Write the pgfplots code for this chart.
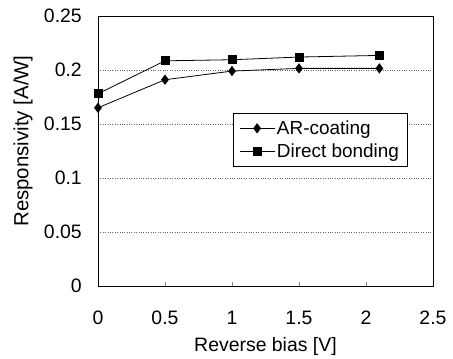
\documentclass[border=0pt]{standalone}
\usepackage{fontspec}
\setmainfont{Liberation Sans}
\usepackage{pgfplots}
\pgfplotsset{compat=1.18}
\newcommand{\tl}[1]{\mbox{\fontsize{19.5}{22}\selectfont #1}}
\begin{document}
\begin{tikzpicture}
\begin{axis}[
  scale only axis,
  width=335bp, height=270bp,
  xmin=0, xmax=2.5, ymin=0, ymax=0.25,
  xtick={0,0.5,1,1.5,2,2.5},
  ytick={0,0.05,0.1,0.15,0.2,0.25},
  xticklabels={\tl{0},\tl{0.5},\tl{1},\tl{1.5},\tl{2},\tl{2.5}},
  yticklabels={\tl{0},\tl{0.05},\tl{0.1},\tl{0.15},\tl{0.2},\tl{0.25}},
  tick label style={font=\fontsize{19.5}{22}\selectfont, inner sep=0pt},
  xticklabel style={anchor=north, yshift=-25bp},
  yticklabel style={anchor=east, xshift=-16bp},
  xlabel style={font=\fontsize{19.5}{22}\selectfont, at={(axis description cs:0.5,-0.224)}, anchor=center, inner sep=0pt},
  ylabel style={font=\fontsize{20.5}{23}\selectfont, at={(axis description cs:-0.2239,0.537)}, anchor=center, inner sep=0pt},
  xlabel={Reverse bias [V]},
  ylabel={Responsivity [A/W]},
  ymajorgrids,
  major grid style={dotted, gray!80!black, line width=0.7pt},
  major tick length=4bp,
  tick align=inside,
  ytick style={draw=none},
  xtick pos=bottom,
  axis line style={line width=0.8pt},
  legend image code/.code={\draw[mark repeat=2, mark phase=2, #1] plot coordinates {(0bp,0bp) (17.5bp,0bp) (35bp,0bp)};},
  legend style={at={(axis description cs:0.663,0.541)}, anchor=center, font=\fontsize{19}{21}\selectfont, draw=black, line width=0.6pt, inner xsep=6bp, inner ysep=5bp, row sep=4bp, cells={anchor=west}},
  legend cell align=left,
]
\addplot[black, line width=0.8pt, mark=diamond*, mark size=4.5bp, mark options={solid}] coordinates {
  (0,0.165) (0.5,0.191) (1,0.199) (1.5,0.2015) (2.1,0.2015)
};
\addlegendentry{AR-coating}
\addplot[black, line width=0.8pt, mark=square*, mark size=4bp, mark options={solid}] coordinates {
  (0,0.178) (0.5,0.2085) (1,0.2095) (1.5,0.212) (2.1,0.2135)
};
\addlegendentry{Direct bonding}
\end{axis}
\pgfresetboundingbox
\path (current axis.south west) ++(-98bp,-73bp) rectangle ++(453bp,359bp);
\end{tikzpicture}
\end{document}
